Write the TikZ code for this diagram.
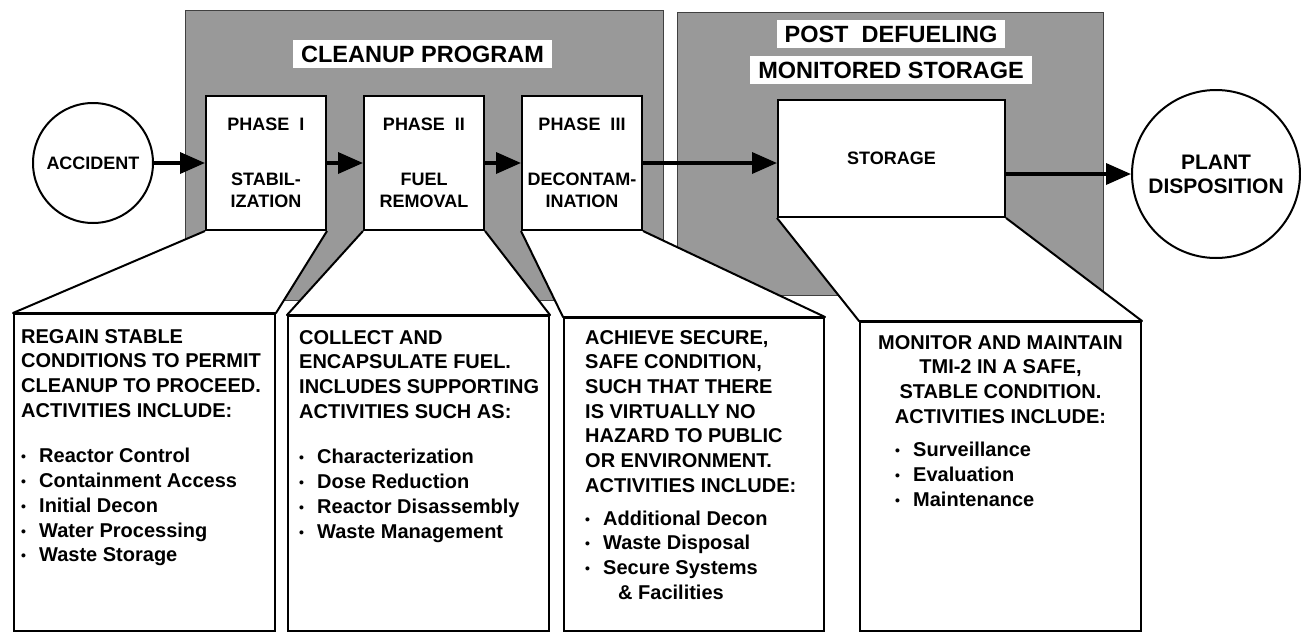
\documentclass[tikz,border=0pt]{standalone}
\usepackage{fontspec}
\setmainfont{Liberation Sans}
\usetikzlibrary{positioning,arrows.meta}
\pgfdeclarelayer{shade}
\pgfdeclarelayer{funnel}
\pgfsetlayers{shade,funnel,main}
\newcommand{\bul}{\makebox[18pt][l]{\raisebox{1pt}{\fontsize{14}{14}\selectfont\textbullet}}}
\begin{document}
\begin{tikzpicture}[
x=1pt, y=-1pt,
>={Triangle[length=25pt,width=21pt]},
node distance=158pt,
arrow/.style={draw,->,line width=3.5pt},
region/.style={draw=black!75,fill=black!40,line width=1pt,anchor=north west},
title/.style={fill=white,inner xsep=8pt,inner ysep=5.5pt,font=\bfseries\fontsize{23.5}{28}\selectfont},
phase/.style={draw,fill=white,line width=2pt,minimum width=120pt,minimum height=134pt,align=center,font=\bfseries\fontsize{18}{22}\selectfont},
event/.style={draw,circle,line width=2pt,align=center,font=\bfseries\fontsize{18}{22}\selectfont},
sheet/.style={draw,fill=white,line width=2pt,anchor=north west},
funnel/.style={draw,fill=white,line width=2pt,line join=round},
note/.style={inner sep=0pt,align=left,anchor=north west,font=\bfseries\fontsize{20}{24.7}\selectfont}
]
\useasboundingbox (0,0) rectangle (1301,632);

\node[event, minimum size=120pt] (accident) at (93,163) {ACCIDENT};
\node[phase] (phase1) at (266,163) {PHASE\ \ I\\[33pt]STABIL-\\IZATION};
\node[phase] (phase2) [right of = phase1] {PHASE\ \ II\\[33pt]FUEL\\REMOVAL};
\node[phase] (phase3) [right of = phase2] {PHASE\ \ III\\[33pt]DECONTAM-\\INATION};
\node[phase, minimum width=227pt, minimum height=117pt] (storage) at (891.5,158.5) {STORAGE};
\node[event, minimum size=168pt, font=\bfseries\fontsize{21}{24}\selectfont] (plant) at (1216,174) {PLANT\\DISPOSITION};

\node[title] (cleanuptitle) at (422.5,54) {CLEANUP PROGRAM};
\node[title] (posttitle) at (891,34) {POST\ \ DEFUELING};
\node[title] (monitortitle) at (891,70) {MONITORED STORAGE};

\node[sheet, minimum width=261pt, minimum height=317pt] (box1) at (13,313) {};
\node[sheet, minimum width=261pt, minimum height=315pt] (box2) at (287,315) {};
\node[sheet, minimum width=260pt, minimum height=313pt] (box3) at (563,317) {};
\node[sheet, minimum width=281pt, minimum height=309pt] (box4) at (859,321) {};

\node[note] (text1) at ([shift={(8,16)}]box1.north west) {REGAIN STABLE\\CONDITIONS TO PERMIT\\CLEANUP TO PROCEED.\\ACTIVITIES INCLUDE:\\[21pt]\bul Reactor Control\\\bul Containment Access\\\bul Initial Decon\\\bul Water Processing\\\bul Waste Storage};
\node[note] (text2) at ([shift={(12,15)}]box2.north west) {COLLECT AND\\ENCAPSULATE FUEL.\\INCLUDES SUPPORTING\\ACTIVITIES SUCH AS:\\[21pt]\bul Characterization\\\bul Dose Reduction\\\bul Reactor Disassembly\\\bul Waste Management};
\node[note] (text3) at ([shift={(22,13)}]box3.north west) {ACHIEVE SECURE,\\SAFE CONDITION,\\SUCH THAT THERE\\IS VIRTUALLY NO\\HAZARD TO PUBLIC\\OR ENVIRONMENT.\\ACTIVITIES INCLUDE:\\[8pt]\bul Additional Decon\\\bul Waste Disposal\\\bul Secure Systems\\\hspace*{33pt}\& Facilities};
\node[note, align=center, anchor=north] (text4) at ([shift={(0,14)}]box4.north) {MONITOR AND MAINTAIN\\TMI-2 IN A SAFE,\\STABLE CONDITION.\\ACTIVITIES INCLUDE:};
\node[note] (list4) at ([shift={(36,121)}]box4.north west) {\bul Surveillance\\\bul Evaluation\\\bul Maintenance};

\begin{pgfonlayer}{shade}
\node[region, minimum width=478pt, minimum height=290pt] (cleanup) at (185,10) {};
\node[region, minimum width=426pt, minimum height=283pt] (defuel) at (677,12) {};
\end{pgfonlayer}

\begin{pgfonlayer}{funnel}
\path[funnel] (phase1.south west) -- (box1.north west) -- (box1.north east) -- (phase1.south east);
\path[funnel] (phase2.south west) -- (box2.north west) -- (box2.north east) -- (phase2.south east);
\path[funnel] (phase3.south west) -- (box3.north west) -- (box3.north east) -- (phase3.south east);
\path[funnel] (storage.south west) -- (box4.north west) -- (box4.north east) -- (storage.south east);
\end{pgfonlayer}

\path[arrow] (accident) -- (phase1);
\path[arrow] (phase1) -- (phase2);
\path[arrow] (phase2) -- (phase3);
\path[arrow] (phase3.east) -- (phase3.east -| storage.west);
\path[arrow] (storage.east |- plant.west) -- (plant.west);

\end{tikzpicture}
\end{document}
